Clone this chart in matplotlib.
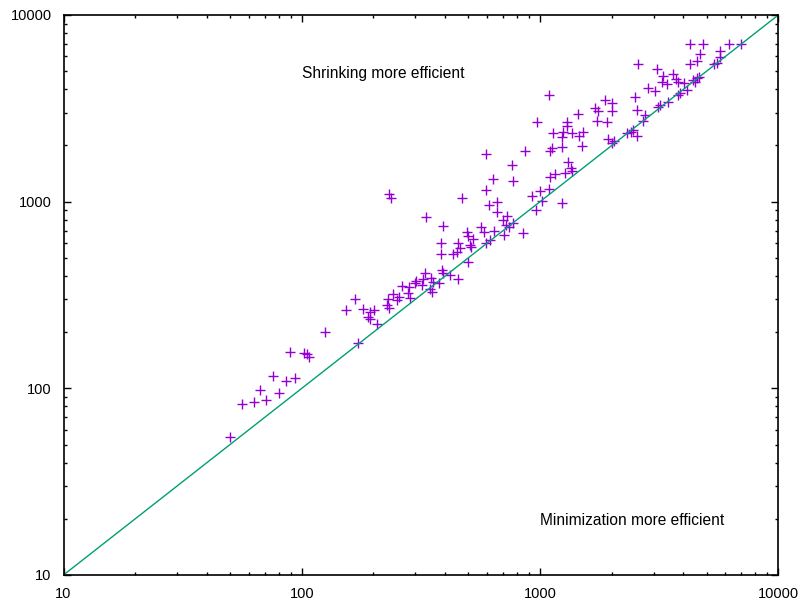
import numpy as np
import matplotlib
matplotlib.use("Agg")
import matplotlib.pyplot as plt
from matplotlib.ticker import LogLocator, NullFormatter, FixedLocator

plt.rcParams['font.family'] = ['Liberation Sans', 'DejaVu Sans']

# time with minimization (x) vs time with shrinking (y)
minim = [50, 56, 63, 67, 71, 76, 80, 86, 94, 89, 102, 105, 107, 125, 172,
         233, 236, 154, 168, 180, 193, 201, 190, 193, 206, 227, 233, 231, 242, 250, 257,
         332, 390, 472, 593, 862, 762, 633, 772, 593, 609, 658, 658, 701, 728, 719, 738,
         767, 705, 850, 565, 582, 641, 593, 616, 495, 500, 521, 508, 511, 454, 461, 447,
         432, 385, 385, 500, 419, 454, 386, 392, 378, 329, 324, 319, 347, 356, 345, 351,
         301, 298, 282, 280, 284, 263,
         1000, 1093, 1016, 961, 1232, 922, 1101, 1155, 1272, 1344, 1313, 1101, 1119, 1232,
         1232, 1136, 1252, 1357,
         4257, 4839, 6221, 7000, 4688, 4567, 4257, 5687, 5687, 5509, 5366, 2583, 3085, 3289,
         3238, 3399, 3622, 3718, 3802, 4017, 4123, 4394, 4540, 4629, 4467, 3865, 3802, 2845,
         3035, 2502, 2558, 2755, 2711, 3124, 3185, 3451, 1093, 1873, 1998, 1998, 1700, 1754,
         1738, 1904, 1446, 1293, 1301, 1460, 1518, 1495, 1933, 2013, 2042, 2315, 2407, 2466,
         2558, 1361, 973]
shrink = [55, 82, 85, 98, 87, 116, 94, 110, 114, 156, 154, 152, 147, 200, 175,
          1100, 1040, 263, 300, 267, 257, 263, 242, 234, 221, 279, 268, 300, 319, 297, 310,
          830, 743, 1050, 1800, 1860, 1570, 1330, 1290, 1160, 962, 995, 880, 797, 840, 749, 728,
          771, 662, 676, 728, 687, 699, 598, 623, 690, 654, 630, 586, 569, 602, 562, 539,
          524, 598, 524, 473, 405, 384, 430, 416, 365, 413, 385, 358, 388, 372, 339, 327,
          377, 368, 347, 323, 303, 353,
          1144, 1164, 1011, 902, 979, 1072, 1359, 1400, 1428, 1508, 1636, 1873, 1930, 1954,
          2210, 2322, 2368, 2339,
          6985, 6985, 6985, 7000, 6174, 5685, 5458, 6430, 5928, 5546, 5438, 5458, 5110, 4707,
          4386, 4264, 4824, 4519, 4386, 4301, 3960, 4480, 4575, 4667, 4386, 3840, 3724, 4045,
          3926, 3647, 3095, 2910, 2713, 3224, 3292, 3429, 3724, 3501, 3362, 3069, 3160, 3069,
          2719, 2679, 2946, 2679, 2541, 2237, 2368, 1978, 2164, 2060, 2111, 2322, 2368, 2418,
          2245, 1458, 2679]

diag = [10, 10000]

fig = plt.figure(figsize=(8.05, 6.07), dpi=100)
ax = fig.add_axes([63.5 / 805, 32 / 607, (778.3 - 63.5) / 805, 560 / 607])

ax.plot(minim, shrink, linestyle='none', marker='+', color='#9400d3',
        markersize=7, markeredgewidth=1.0)
ax.plot(diag, diag, color='#009e73', linewidth=1.0)

ax.set_xscale('log')
ax.set_yscale('log')
ax.set_xlim(10, 10000)
ax.set_ylim(10, 10000)

ticks = [10, 100, 1000, 10000]
ax.xaxis.set_major_locator(FixedLocator(ticks))
ax.yaxis.set_major_locator(FixedLocator(ticks))
ax.set_xticklabels([str(t) for t in ticks])
ax.set_yticklabels([str(t) for t in ticks])
ax.xaxis.set_minor_locator(LogLocator(base=10, subs=np.arange(2, 10)))
ax.yaxis.set_minor_locator(LogLocator(base=10, subs=np.arange(2, 10)))
ax.xaxis.set_minor_formatter(NullFormatter())
ax.yaxis.set_minor_formatter(NullFormatter())

ax.tick_params(which='both', direction='in', top=True, right=True, labelsize=10.5,
               colors='black', width=1.0)
ax.tick_params(which='major', length=5, pad=8.5)
ax.tick_params(which='minor', length=2.5)
for s in ax.spines.values():
    s.set_linewidth(1.2)

ax.text(100, 4850, "Shrinking more efficient", fontsize=11.2, va='center', ha='left')
ax.text(1000, 19.7, "Minimization more efficient", fontsize=11.2, va='center', ha='left')

fig.savefig("out.png", dpi=100)
